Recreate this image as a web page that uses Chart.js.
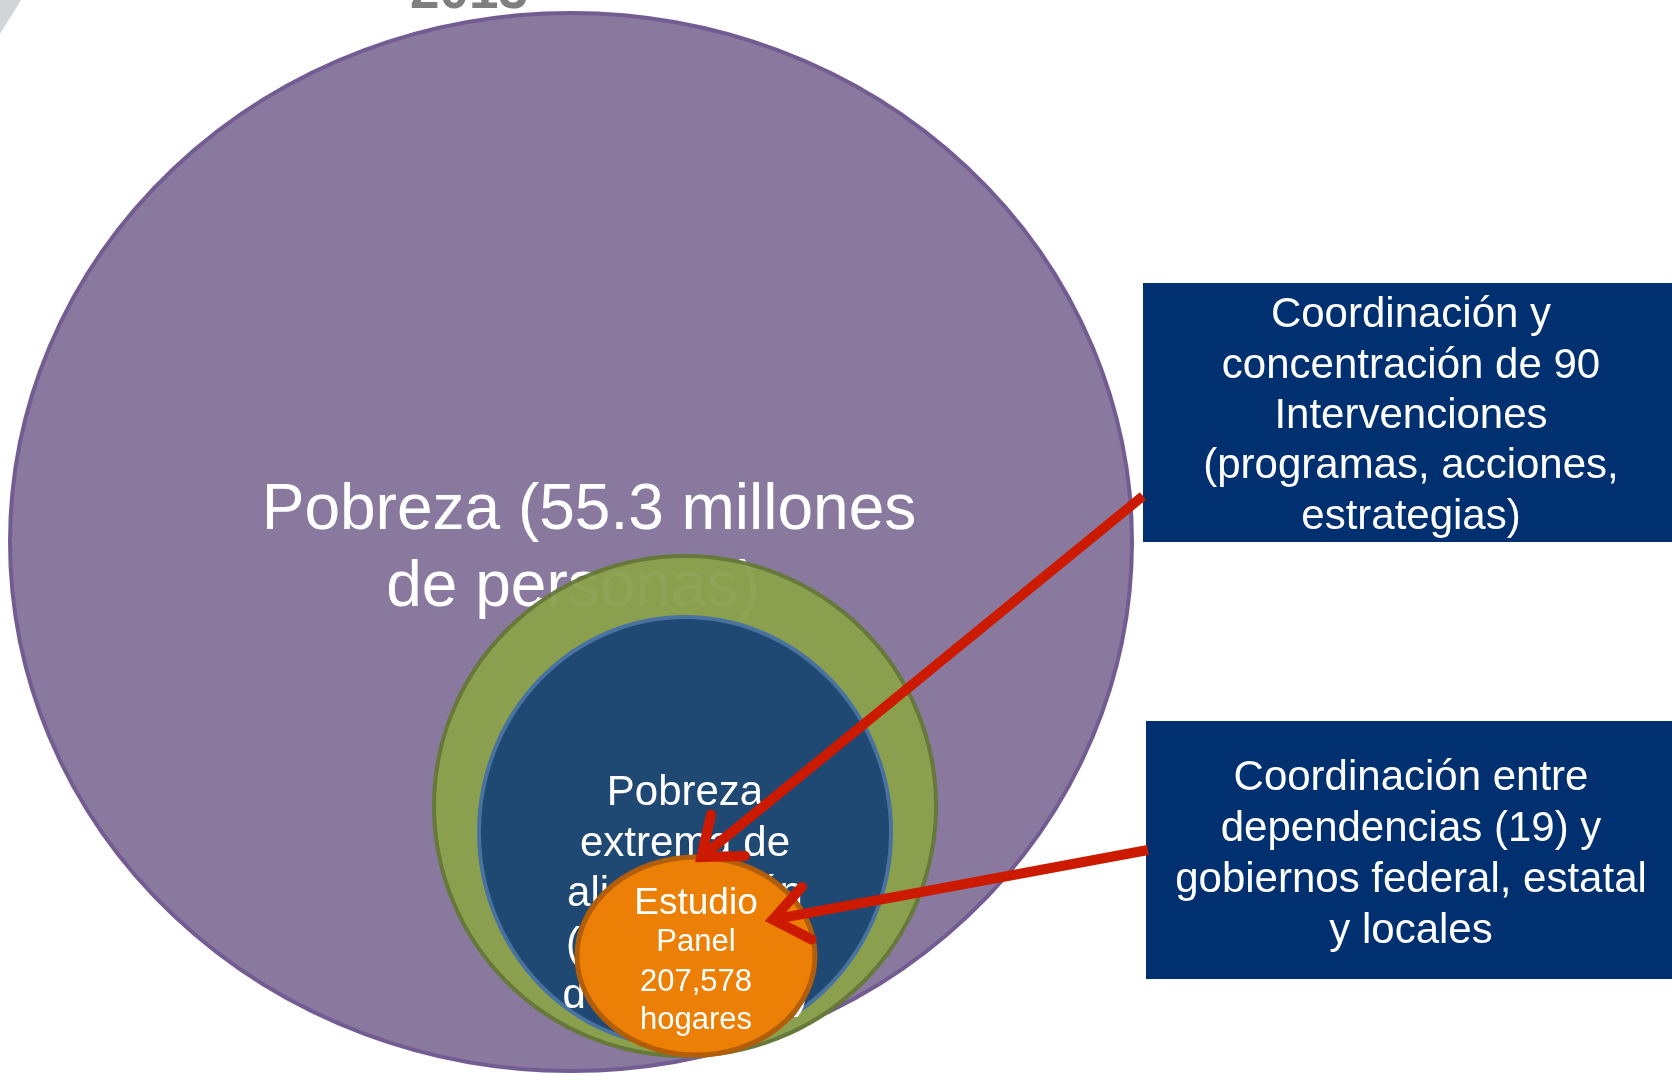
<!DOCTYPE html>
<html>
<head>
<meta charset="utf-8">
<script src="https://cdn.jsdelivr.net/npm/chart.js@4/dist/chart.umd.min.js"></script>
<style>
html,body{margin:0;padding:0;background:#fff;overflow:hidden}
#wrap{width:1672px;height:1073px;position:relative}
</style>
</head>
<body>
<div id="wrap"><canvas id="c" width="1672" height="1073"></canvas></div>
<script>
// ---- Data (diagram units) ----
const circleNames = ['Pobreza', 'Anillo', 'Pobreza extrema de alimentación', 'Estudio Panel'];
const circleX  = [571, 685, 685, 696];
const circleY  = [542, 806, 832, 956];
const circleRX = [561, 251, 206, 119];
const circleRY = [529, 250, 215, 99];

const purpleLines = ['Pobreza (55.3 millones', 'de personas)'];
const blueLines   = ['Pobreza', 'extrema de', 'alimentación', '(7.4 millones', 'de personas)'];
const orangeLines = ['Estudio', 'Panel', '207,578', 'hogares'];

const boxNames = ['Intervenciones', 'Dependencias'];
const box1Lines = ['Coordinación y', 'concentración de 90', 'Intervenciones', '(programas, acciones,', 'estrategias)'];
const box2Lines = ['Coordinación entre', 'dependencias (19) y', 'gobiernos federal, estatal', 'y locales'];
const boxX0 = [1143, 1146];
const boxX1 = [1680, 1680];
const boxY0 = [283, 721];
const boxY1 = [542, 979];

const arrowX0 = [1143, 1148];
const arrowY0 = [496, 850];
const arrowX1 = [699, 770];
const arrowY1 = [859, 920];

const titleText = '2013';

// ---- Styles ----
const circleFill   = ['#8a799e', '#8ba04e', '#1f4972', '#ec7f05'];
const circleStroke = ['#735c92', '#66793a', '#4a72a0', '#b25d0a'];
const circleLW     = [4, 4, 4, 5];
const FONT = '"Liberation Sans", Arial, sans-serif';

const diagramPlugin = {
  id: 'diagram',
  beforeDatasetsDraw(chart) {
    const ctx = chart.ctx;
    const xs = chart.scales.x, ys = chart.scales.y;
    const px = v => xs.getPixelForValue(v);
    const py = v => ys.getPixelForValue(v);

    function ellipse(i) {
      const cx = px(circleX[i]), cy = py(circleY[i]);
      const rx = Math.abs(px(circleX[i] + circleRX[i]) - cx);
      const ry = Math.abs(py(circleY[i] + circleRY[i]) - cy);
      ctx.save();
      ctx.beginPath();
      ctx.ellipse(cx, cy, rx, ry, 0, 0, Math.PI * 2);
      ctx.fillStyle = circleFill[i];
      ctx.fill();
      ctx.lineWidth = circleLW[i];
      ctx.strokeStyle = circleStroke[i];
      ctx.stroke();
      ctx.restore();
    }
    function lines(arr, xsArr, y0, step, sizes, color, alpha) {
      ctx.save();
      ctx.fillStyle = color;
      ctx.globalAlpha = alpha == null ? 1 : alpha;
      ctx.textAlign = 'center';
      ctx.textBaseline = 'middle';
      arr.forEach((t, k) => {
        const s = Array.isArray(sizes) ? sizes[k] : sizes;
        const x = Array.isArray(xsArr) ? xsArr[k] : xsArr;
        ctx.font = s + 'px ' + FONT;
        ctx.fillText(t, px(x), py(y0 + step[k]));
      });
      ctx.restore();
    }

    // top-left decoration
    ctx.save();
    ctx.fillStyle = '#d2d5d8';
    ctx.beginPath();
    ctx.moveTo(px(0), py(0)); ctx.lineTo(px(21), py(0)); ctx.lineTo(px(0), py(34)); ctx.closePath();
    ctx.fill();
    ctx.restore();

    // title (cut at top)
    ctx.save();
    ctx.fillStyle = '#7f7f7f';
    ctx.font = 'bold 53px ' + FONT;
    ctx.textAlign = 'center';
    ctx.textBaseline = 'alphabetic';
    ctx.fillText(titleText, px(469), py(8));
    ctx.restore();

    // purple
    ellipse(0);
    const pSteps = [0, 77];
    const pX = [589, 573];
    lines(purpleLines, pX, 511, pSteps, 64, '#ffffff');
    // green
    ellipse(1);
    lines(purpleLines, pX, 511, pSteps, 64, '#ffffff', 0.05);
    // blue
    ellipse(2);
    lines(blueLines, 685, 793, [0, 51, 101, 152, 203], 42, '#ffffff');
    // orange
    ellipse(3);
    lines(orangeLines, 696, 904, [0, 38, 78, 116], [37, 31, 31, 31], '#ffffff');

    // boxes
    const bl = [box1Lines, box2Lines];
    const bc = [[315, 366, 416, 466, 517], [778, 829, 880, 931]];
    for (let i = 0; i < 2; i++) {
      ctx.save();
      ctx.fillStyle = '#003070';
      const x0 = px(boxX0[i]), y0 = py(boxY0[i]);
      ctx.fillRect(x0, y0, px(boxX1[i]) - x0, py(boxY1[i]) - y0);
      ctx.restore();
      ctx.save();
      ctx.fillStyle = '#ffffff';
      ctx.font = '42px ' + FONT;
      ctx.textAlign = 'center';
      ctx.textBaseline = 'middle';
      bl[i].forEach((t, k) => ctx.fillText(t, px(1411), py(bc[i][k])));
      ctx.restore();
    }

    // arrows
    for (let i = 0; i < 2; i++) {
      const x0 = px(arrowX0[i]), y0 = py(arrowY0[i]);
      const x1 = px(arrowX1[i]), y1 = py(arrowY1[i]);
      const ang = Math.atan2(y1 - y0, x1 - x0);
      const L = 46, a = 0.62;
      ctx.save();
      ctx.strokeStyle = '#cc1a00';
      ctx.lineWidth = 10;
      ctx.lineCap = 'butt';
      ctx.beginPath();
      ctx.moveTo(x0, y0); ctx.lineTo(x1 - 8 * Math.cos(ang), y1 - 8 * Math.sin(ang));
      ctx.stroke();
      ctx.lineCap = 'round';
      ctx.lineJoin = 'miter';
      ctx.miterLimit = 10;
      ctx.beginPath();
      ctx.moveTo(x1 - L * Math.cos(ang - a), y1 - L * Math.sin(ang - a));
      ctx.lineTo(x1 - 3 * Math.cos(ang), y1 - 3 * Math.sin(ang));
      ctx.lineTo(x1 - L * Math.cos(ang + a), y1 - L * Math.sin(ang + a));
      ctx.stroke();
      ctx.restore();
    }
  }
};

new Chart(document.getElementById('c'), {
  type: 'scatter',
  data: {
    datasets: [{
      label: 'Conjuntos',
      data: circleX.map((x, i) => ({ x: x, y: circleY[i] })),
      pointRadius: 0,
      pointHoverRadius: 0
    }]
  },
  options: {
    responsive: false,
    animation: false,
    events: [],
    layout: { padding: 0 },
    plugins: { legend: { display: false }, tooltip: { enabled: false } },
    scales: {
      x: { type: 'linear', min: 0, max: 1672, display: false },
      y: { type: 'linear', min: 0, max: 1073, reverse: true, display: false }
    }
  },
  plugins: [diagramPlugin]
});
</script>
</body>
</html>
